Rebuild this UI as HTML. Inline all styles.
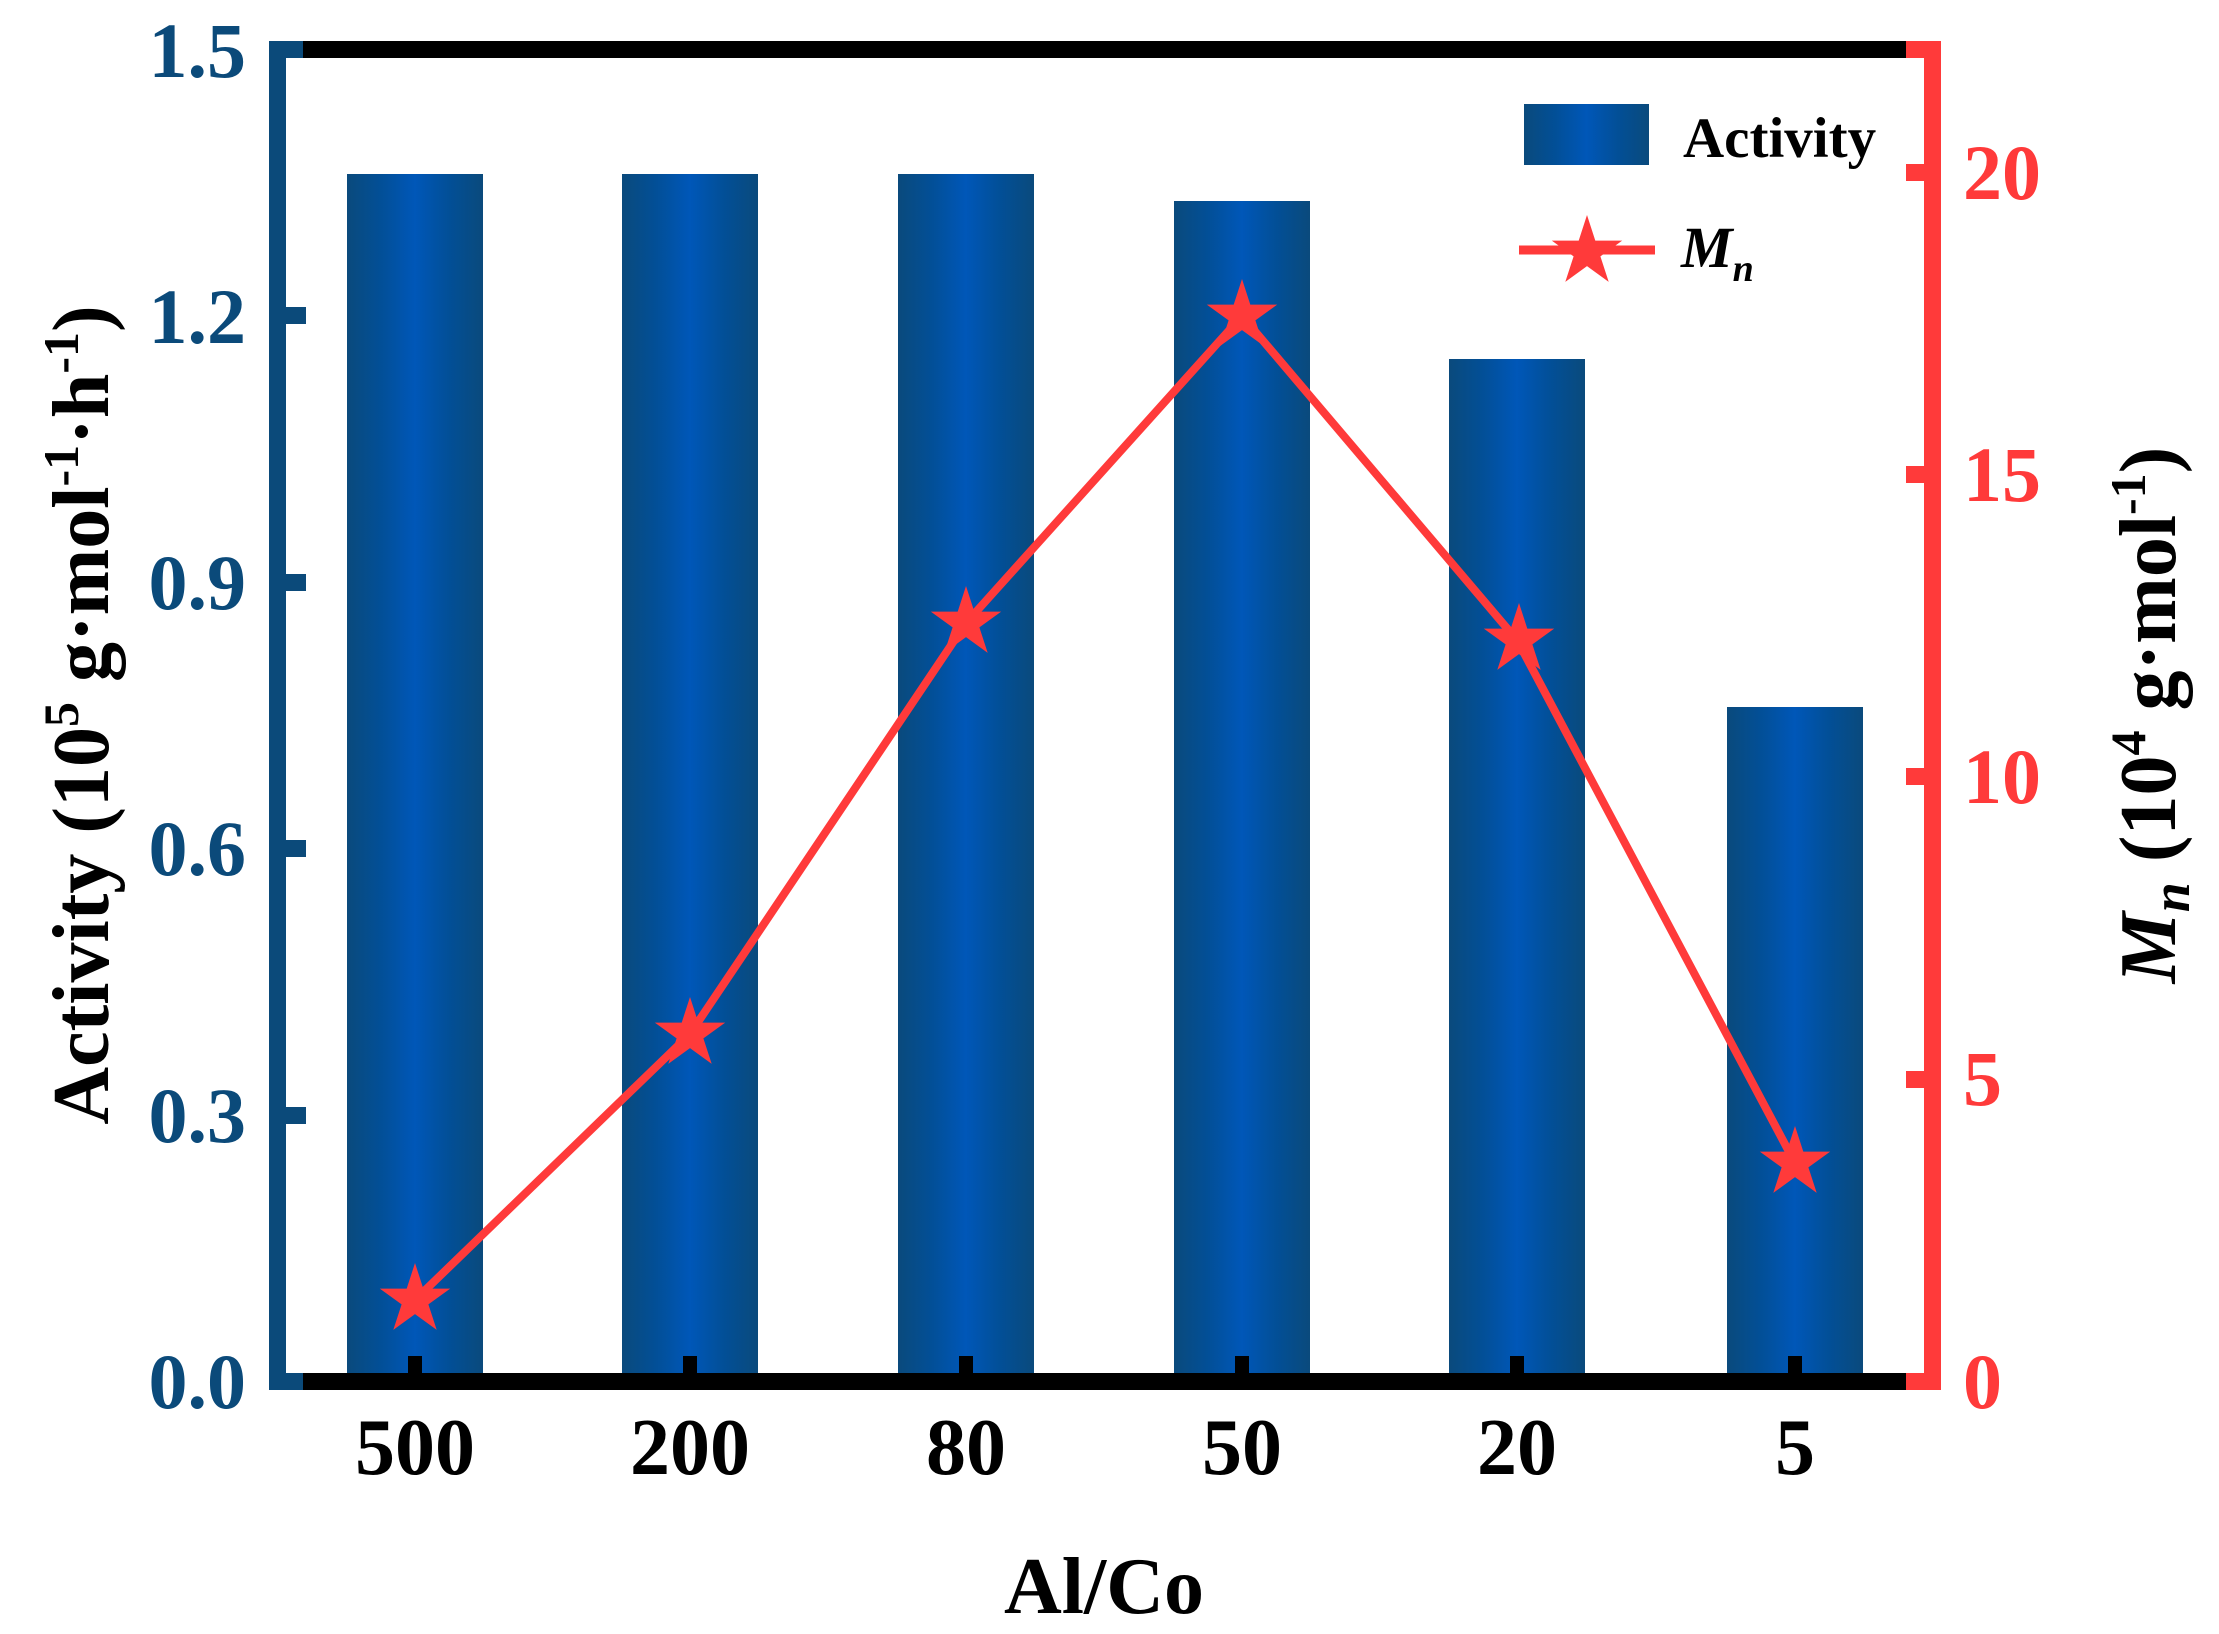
<!DOCTYPE html>
<html><head><meta charset="utf-8"><style>
html,body{margin:0;padding:0;background:#fff;}
svg{display:block;}
text{font-family:"Liberation Serif",serif;font-weight:bold;}
</style></head><body>
<svg width="2219" height="1634" viewBox="0 0 2219 1634" xmlns="http://www.w3.org/2000/svg">
<defs>
<linearGradient id="bg" x1="0" x2="1" y1="0" y2="0">
<stop offset="0" stop-color="#0a4a7c"/>
<stop offset="0.25" stop-color="#024f97"/>
<stop offset="0.5" stop-color="#0057b8"/>
<stop offset="0.75" stop-color="#024f97"/>
<stop offset="1" stop-color="#0a4a7c"/>
</linearGradient>
<polygon id="st" points="0,-37 8.3,-11.4 35.2,-11.4 13.4,4.4 21.7,29.9 0,14.1 -21.7,29.9 -13.4,4.4 -35.2,-11.4 -8.3,-11.4" fill="#ff3a3a"/>
</defs>
<rect x="347" y="174" width="136" height="1207" fill="url(#bg)"/>
<rect x="622" y="174" width="136" height="1207" fill="url(#bg)"/>
<rect x="898" y="174" width="136" height="1207" fill="url(#bg)"/>
<rect x="1174" y="201" width="136" height="1180" fill="url(#bg)"/>
<rect x="1449" y="359" width="136" height="1022" fill="url(#bg)"/>
<rect x="1727" y="707" width="136" height="674" fill="url(#bg)"/>
<rect x="286" y="41" width="1638" height="17" fill="#000"/>
<rect x="286" y="1373" width="1638" height="17" fill="#000"/>
<rect x="269" y="41" width="17" height="1349" fill="#0b4a7a"/>
<rect x="269" y="41" width="34" height="17" fill="#0b4a7a"/>
<rect x="269" y="1373" width="34" height="17" fill="#0b4a7a"/>
<rect x="1924" y="41" width="17" height="1349" fill="#ff3a3a"/>
<rect x="1906" y="41" width="35" height="17" fill="#ff3a3a"/>
<rect x="1906" y="1373" width="35" height="17" fill="#ff3a3a"/>
<g fill="#0b4a7a">
<rect x="286" y="307" width="20" height="17"/>
<rect x="286" y="574" width="20" height="17"/>
<rect x="286" y="840" width="20" height="17"/>
<rect x="286" y="1107" width="20" height="17"/>
</g>
<g fill="#ff3a3a">
<rect x="1906" y="164" width="18" height="17"/>
<rect x="1906" y="466" width="18" height="17"/>
<rect x="1906" y="768" width="18" height="17"/>
<rect x="1906" y="1071" width="18" height="17"/>
</g>
<g fill="#000">
<rect x="408" y="1356" width="14" height="18"/>
<rect x="683" y="1356" width="14" height="18"/>
<rect x="959" y="1356" width="14" height="18"/>
<rect x="1235" y="1356" width="14" height="18"/>
<rect x="1510" y="1356" width="14" height="18"/>
<rect x="1788" y="1356" width="14" height="18"/>
</g>
<g fill="#0b4a7a" font-size="78" text-anchor="end">
<text x="246" y="1408">0.0</text>
<text x="246" y="1142">0.3</text>
<text x="246" y="875">0.6</text>
<text x="246" y="609">0.9</text>
<text x="246" y="343">1.2</text>
<text x="246" y="77">1.5</text>
</g>
<g fill="#ff3a3a" font-size="78" text-anchor="start">
<text x="1963" y="1408">0</text>
<text x="1963" y="1105">5</text>
<text x="1963" y="803">10</text>
<text x="1963" y="501">15</text>
<text x="1963" y="199">20</text>
</g>
<g fill="#000" font-size="80" text-anchor="middle">
<text x="415" y="1474">500</text>
<text x="690" y="1474">200</text>
<text x="966" y="1474">80</text>
<text x="1242" y="1474">50</text>
<text x="1517" y="1474">20</text>
<text x="1795" y="1474">5</text>
</g>
<text x="1104" y="1613" font-size="80" text-anchor="middle" fill="#000">Al/Co</text>
<text transform="translate(108,715) rotate(-90)" font-size="80" text-anchor="middle" fill="#000">Activity (10<tspan font-size="50" dy="-30">5</tspan><tspan dy="30"> g·mol</tspan><tspan font-size="50" dy="-30">-1</tspan><tspan dy="30">·h</tspan><tspan font-size="50" dy="-30">-1</tspan><tspan dy="30">)</tspan></text>
<text transform="translate(2175,715) rotate(-90)" font-size="80" text-anchor="middle" fill="#000"><tspan font-style="italic">M</tspan><tspan font-style="italic" font-size="54" dy="14">n</tspan><tspan dy="-14"> (10</tspan><tspan font-size="50" dy="-30">4</tspan><tspan dy="30"> g·mol</tspan><tspan font-size="50" dy="-30">-1</tspan><tspan dy="30">)</tspan></text>
<polyline points="415,1300 690,1034 966,623 1242,316 1517,640 1795,1163" fill="none" stroke="#ff3a3a" stroke-width="8" stroke-linejoin="round"/>
<use href="#st" x="415" y="1300"/>
<use href="#st" x="690" y="1034"/>
<use href="#st" x="966" y="623"/>
<use href="#st" x="1242" y="316"/>
<use href="#st" x="1519" y="640"/>
<use href="#st" x="1795" y="1163"/>
<rect x="1524" y="104" width="125" height="61" fill="url(#bg)"/>
<text x="1683" y="157" font-size="57" fill="#000">Activity</text>
<line x1="1519" y1="250" x2="1655" y2="250" stroke="#ff3a3a" stroke-width="9"/>
<use href="#st" x="1587" y="252"/>
<text x="1681" y="267" font-size="58" font-style="italic" fill="#000">M<tspan font-size="38" dy="14">n</tspan></text>
</svg>
</body></html>
